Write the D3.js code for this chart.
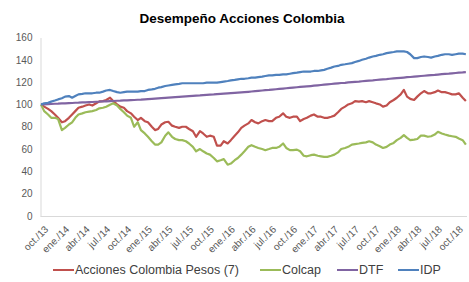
<!DOCTYPE html>
<html lang=es>
<head>
	<meta charset="utf-8">
	<title>Desempeño Acciones Colombia</title>
	<script src="https://cdn.jsdelivr.net/npm/d3@7"></script>
	<style>
		body { margin: 0; background: #fff; }
		text { font-family: "Liberation Sans", Arial, sans-serif; }
	</style>
</head>
<body>
	<script type="text/javascript">
	// fechas: quincenas desde oct/13 (1 y 15 de cada mes)
	var startDate = new Date(2013, 9, 1);
	var nPoints = 124;

	var tickLabels = ["oct./13","ene./14","abr./14","jul./14","oct./14","ene./15","abr./15","jul./15","oct./15","ene./16","abr./16","jul./16","oct./16","ene./17","abr./17","jul./17","oct./17","ene./18","abr./18","jul./18","oct./18"];
	var yTicks = [0, 20, 40, 60, 80, 100, 120, 140, 160];

	var seriesNames = ["Acciones Colombia Pesos (7)", "Colcap", "DTF", "IDP"];
	var seriesColors = ["#c0504d", "#9bbb59", "#8064a2", "#4f81bd"];

	var acciones = [100,98,96,94,91,88,84,85,88,91,94,97,98,99,100,99,101,102.8,103,104,
		106,103,100,98,97,94,92,89,86,88,85,84,80,77,78,82,84,84.5,81,80,
		79,80,80,78,76,71,76,74,71,72,71,63,63,67,65,68,72,75,79,81,
		83,86,84,83,85,86,85,85,88,89,92,89,88,89,89,85,87,88,90,91,
		89,89,88,88,89,90,93,96,98,100,101,103,102.5,103,102,103,102,101,100,98,
		99,102,104,106,109,113,107,105,104,107,110,112,110,110,111,112.5,111,111,110,109,
		109,110,106,103];
	var colcap = [100,94,91,88,88,87,77,79,82,84,88,91,92,93,93.5,94,95,96.5,97,98,
		99.8,101,99,96,93,90,88,80,84,77,74,71,67,64,64,66,72,75,71,69,
		68,68,67,65,62,58,60,58,56,55,52,49,50,51,46,47,50,52,55,58,
		62,63.5,62,61,60,59,60,61,61,62,65,61,59,59,59.5,58,54,53.5,54.5,55,
		54,53.5,53,53,54,55,57,60,61,62,64,64.5,65,65.5,66,67,66,64,62.5,61,
		62,64,65.5,68,70,72.5,70,68,68.5,69,72,72,71,71.5,73,75.5,74,73,72,71.5,
		71,69.5,68,64];
	var dtf = [100,100.1,100.3,100.4,100.6,100.7,100.9,101,101.2,101.3,101.5,101.6,101.8,101.9,102.1,102.2,102.4,102.5,102.7,102.8,
		103,103.1,103.3,103.4,103.6,103.7,103.9,104,104.2,104.3,104.5,104.7,105,105.2,105.4,105.6,105.9,106.1,106.3,106.5,
		106.8,107,107.2,107.4,107.7,107.9,108.1,108.4,108.6,108.8,109,109.3,109.5,109.7,110,110.2,110.4,110.6,110.8,111,
		111.3,111.6,111.9,112.2,112.5,112.8,113,113.3,113.6,113.9,114.2,114.5,114.8,115.1,115.4,115.7,116,116.2,116.5,116.8,
		117.1,117.4,117.7,118,118.3,118.6,118.9,119.2,119.4,119.7,120,120.3,120.5,120.8,121.1,121.4,121.6,121.9,122.2,122.5,
		122.7,123,123.3,123.5,123.8,124.1,124.4,124.6,124.9,125.2,125.5,125.7,126,126.3,126.5,126.8,127.1,127.4,127.6,127.9,
		128.2,128.5,128.7,129];
	var idp = [100,101,101.5,102.5,103.5,104.5,105.5,107,107.5,106,107.5,109,109.5,110,110,110,110.5,110.5,111.5,112.5,
		113,112,111,110.5,111,111.5,111.5,111.5,111.5,112,112,113,113.5,114,115,115.5,116.5,117,117.5,118,
		118.5,119,119,119,119,119,119,119,119.5,119.5,119.5,119.5,120,120.5,121,121.5,122,122.5,123,123,
		123.5,124,124,124.5,125,125.5,126,126,126.5,126.5,127,127,127.5,128,128.5,129,129.5,129.5,129.5,130,
		130,130.5,131,132,133,134,134.5,135.5,136,136.5,137,138,139,140,141,142,143,143.5,144.5,145,
		146,146.5,147,147.5,147.5,147.5,147,145,141.5,141.5,142.5,143,142.5,142,143,143.5,144.5,145,145,144.5,
		145,145.5,145.5,145];

	var dates = [];
	for (var i = 0; i < nPoints; i++) {
		var m = d3.timeMonth.offset(startDate, Math.floor(i / 2));
		dates.push(i % 2 == 0 ? m : d3.timeDay.offset(m, 14));
	}
	var allSeries = [acciones, colcap, dtf, idp];

	var width = 469, height = 282;
	var svg = d3.select("body").append("svg")
		.attr("width", width)
		.attr("height", height);

	var x = d3.scaleTime()
		.domain([startDate, new Date(2018, 10, 20)])
		.range([41, 467]);
	var y = d3.scaleLinear()
		.domain([0, 160])
		.range([216, 37.5]);

	svg.append("text")
		.attr("x", 242)
		.attr("y", 23)
		.attr("text-anchor", "middle")
		.style("font-size", "13.5px")
		.style("font-weight", "bold")
		.style("fill", "#000")
		.text("Desempeño Acciones Colombia");

	// eje y
	var yAxis = svg.append("g")
		.attr("transform", "translate(40.5,0)")
		.call(d3.axisLeft(y).tickValues(yTicks).tickSize(0).tickPadding(8));
	yAxis.select(".domain").attr("stroke", "#d9d9d9");
	yAxis.selectAll("text").style("font-size", "10px").style("fill", "#595959");

	// eje x: linea y etiquetas giradas
	var tickDates = tickLabels.map(function(d, i){ return d3.timeMonth.offset(startDate, i * 3); });
	var xAxis = svg.append("g")
		.attr("transform", "translate(0,216.5)")
		.call(d3.axisBottom(x).tickValues(tickDates).tickSize(0).tickFormat(""));
	xAxis.select(".domain").attr("stroke", "#d9d9d9").attr("d", "M40.5,0H467");

	svg.selectAll("text.xlab")
		.data(tickLabels)
		.enter()
		.append("text")
		.attr("class", "xlab")
		.attr("text-anchor", "end")
		.attr("transform", function(d, i){
			return "translate(" + (x(tickDates[i]) + 8) + ",230) rotate(-45)";
		})
		.style("font-size", "10px")
		.style("fill", "#595959")
		.text(function(d){ return d; });

	var line = d3.line()
		.x(function(d, i){ return x(dates[i]); })
		.y(function(d){ return y(d); });

	svg.selectAll("path.serie")
		.data(allSeries)
		.enter()
		.append("path")
		.attr("class", "serie")
		.attr("fill", "none")
		.attr("stroke", function(d, i){ return seriesColors[i]; })
		.attr("stroke-width", 2.2)
		.attr("stroke-linejoin", "round")
		.attr("d", line);

	// leyenda
	var legendX = [53, 260, 337, 398];
	var legend = svg.selectAll("g.leg")
		.data(seriesNames)
		.enter()
		.append("g")
		.attr("class", "leg")
		.attr("transform", function(d, i){ return "translate(" + legendX[i] + ",270)"; });
	legend.append("line")
		.attr("x1", 0).attr("x2", 21)
		.attr("stroke", function(d, i){ return seriesColors[i]; })
		.attr("stroke-width", 2);
	legend.append("text")
		.attr("x", 22)
		.attr("dy", "0.35em")
		.style("font-size", "12.5px")
		.style("fill", "#404040")
		.text(function(d){ return d; });
	</script>
</body>
</html>
